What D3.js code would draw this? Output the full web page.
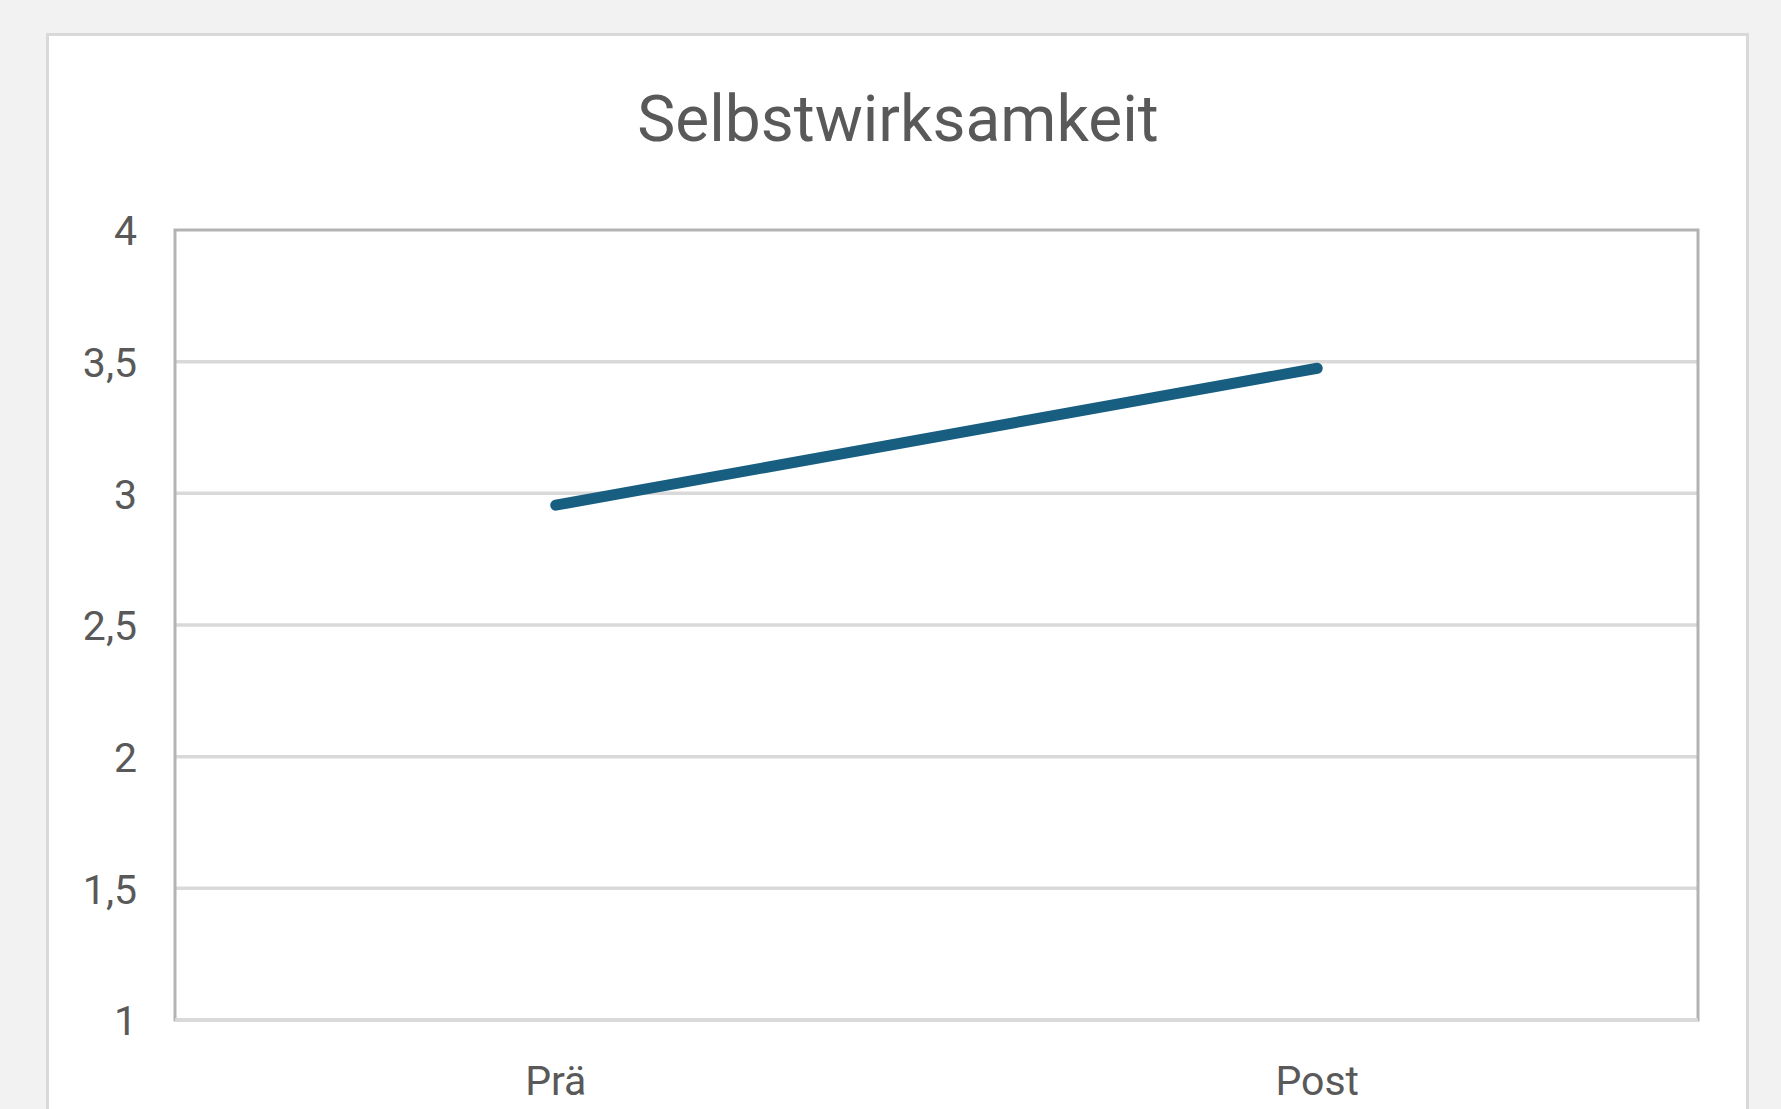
<!DOCTYPE html>
<html>
<head>
<meta charset="utf-8">
<script src="https://cdn.jsdelivr.net/npm/d3@7"></script>
<style>
  body { margin: 0; background: #f2f2f2; }
  svg { display: block; }
  .tick text { fill: #595959; font-family: Roboto, sans-serif; }
</style>
</head>
<body>
<div id="chart"></div>
<script>
// data
const title = "Selbstwirksamkeit";
const phases = ["Prä", "Post"];
const values = [2.955, 3.475];
const yTicks = [1, 1.5, 2, 2.5, 3, 3.5, 4];

const width = 1781, height = 1109;
const margin = {top: 230, right: 83, bottom: 89, left: 175};

const svg = d3.select("#chart").append("svg")
    .attr("width", width)
    .attr("height", height);

// card
svg.append("rect")
    .attr("x", 47.5).attr("y", 34.5)
    .attr("width", 1700).attr("height", 1100)
    .attr("fill", "#ffffff")
    .attr("stroke", "#d9d9d9")
    .attr("stroke-width", 3);

svg.append("text")
    .attr("x", 898).attr("y", 141)
    .attr("text-anchor", "middle")
    .attr("font-family", "Roboto, sans-serif")
    .attr("font-size", 64)
    .attr("fill", "#595959")
    .text(title);

let x = d3.scaleBand()
    .domain(phases)
    .range([margin.left, width - margin.right]);

let y = d3.scaleLinear()
    .domain([1, 4])
    .range([height - margin.bottom, margin.top]);

// gridlines
svg.append("g")
    .selectAll("line")
    .data(yTicks.filter(d => d > 1 && d < 4))
    .join("line")
    .attr("x1", margin.left).attr("x2", width - margin.right)
    .attr("y1", d => y(d)).attr("y2", d => y(d))
    .attr("stroke", "#d9d9d9")
    .attr("stroke-width", 3.5);

// plot frame
svg.append("rect")
    .attr("x", margin.left).attr("y", margin.top)
    .attr("width", width - margin.right - margin.left)
    .attr("height", height - margin.bottom - margin.top)
    .attr("fill", "none")
    .attr("stroke", "#b3b3b3")
    .attr("stroke-width", 3);

svg.append("line")
    .attr("x1", margin.left).attr("x2", width - margin.right)
    .attr("y1", y(1)).attr("y2", y(1))
    .attr("stroke", "#d9d9d9")
    .attr("stroke-width", 3.5);

// axes
let yAxis = svg.append("g")
    .attr("transform", `translate(${margin.left - 38},0)`)
    .call(d3.axisLeft(y)
        .tickValues(yTicks)
        .tickSize(0)
        .tickFormat(d => String(d).replace(".", ",")));
yAxis.select(".domain").remove();
yAxis.selectAll("text").attr("font-size", 41).attr("dy", "0.36em").attr("x", 0);

let xAxis = svg.append("g")
    .attr("transform", `translate(0,${height - margin.bottom})`)
    .call(d3.axisBottom(x).tickSize(0));
xAxis.select(".domain").remove();
xAxis.selectAll("text").attr("font-size", 41).attr("y", 75).attr("dy", 0);

// line
let line = d3.line()
    .x((d, i) => x(phases[i]) + x.bandwidth() / 2)
    .y(d => y(d));

svg.append("path")
    .datum(values)
    .attr("d", line)
    .attr("fill", "none")
    .attr("stroke", "#185e80")
    .attr("stroke-width", 11)
    .attr("stroke-linecap", "round");
</script>
</body>
</html>
